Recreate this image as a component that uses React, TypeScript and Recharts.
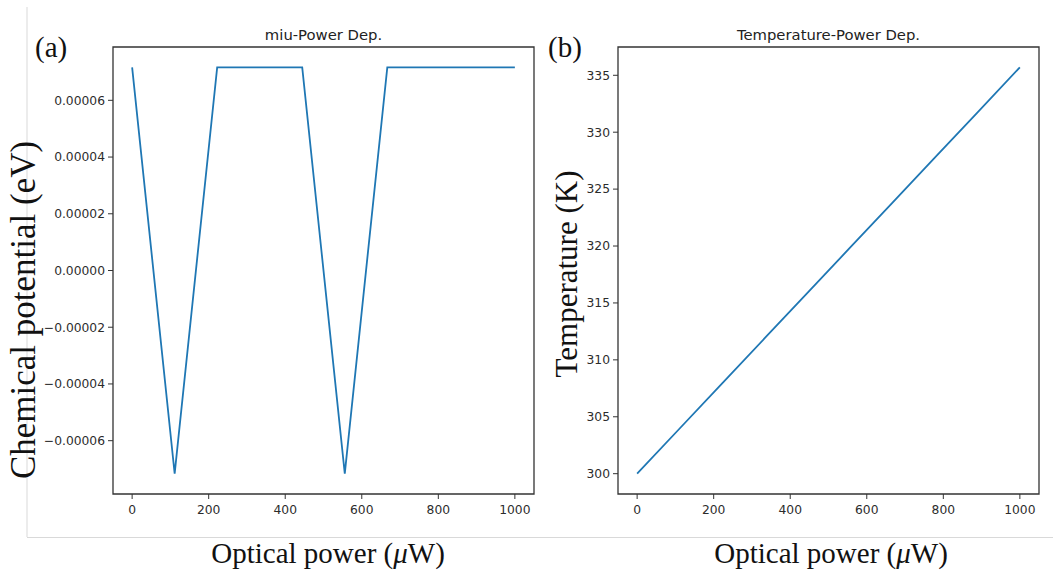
import React from 'react';
import { LineChart, Line, XAxis, YAxis, ReferenceArea } from 'recharts';

const power = [0, 111.1, 222.2, 333.3, 444.4, 555.6, 666.7, 777.8, 888.9, 1000];
const miu = [7.16e-5, -7.16e-5, 7.16e-5, 7.16e-5, 7.16e-5, -7.16e-5, 7.16e-5, 7.16e-5, 7.16e-5, 7.16e-5];
const temperature = [300.0, 303.97, 307.93, 311.9, 315.87, 319.83, 323.8, 327.77, 331.73, 335.7];

const xTicks = [0, 200, 400, 600, 800, 1000];
const miuTicks = [-0.00006, -0.00004, -0.00002, 0, 0.00002, 0.00004, 0.00006];
const tempTicks = [300, 305, 310, 315, 320, 325, 330, 335];

const miuData = power.map((p, i) => ({ p, v: miu[i] }));
const tempData = power.map((p, i) => ({ p, v: temperature[i] }));

const AXIS = '#333';
const tickStyle = { fill: '#2b2b2b', fontSize: 12.3, fontFamily: 'DejaVu Sans' };
const serif = '"Liberation Serif", "Times New Roman", serif';

const fmtMiu = (v: number) => {
  const s = Math.abs(v).toFixed(5);
  return v < -1e-12 ? '\u2212' + s : s;
};

export default function App() {
  return (
    <div style={{ position: 'absolute', left: 0, top: 0, width: 1053, height: 571, background: '#fff', overflow: 'hidden' }}>
      <div style={{ position: 'absolute', left: 0, top: 0 }}>
        <LineChart width={560} height={571} data={miuData} margin={{ top: 47, right: 26, bottom: 47, left: 33 }}>
          <XAxis
            type="number"
            dataKey="p"
            domain={[-50, 1050]}
            ticks={xTicks}
            allowDataOverflow
            interval={0}
            height={30}
            tickSize={5}
            tickMargin={6}
            tick={tickStyle}
            stroke={AXIS}
            axisLine={false}
          />
          <YAxis
            type="number"
            dataKey="v"
            domain={[-0.0000788, 0.0000788]}
            ticks={miuTicks}
            allowDataOverflow
            interval={0}
            width={80}
            tickSize={5}
            tickMargin={3}
            tick={tickStyle}
            tickFormatter={fmtMiu}
            stroke={AXIS}
            axisLine={false}
          />
          <ReferenceArea x1={-50} x2={1050} y1={-0.0000788} y2={0.0000788} fill="none" stroke={AXIS} strokeWidth={1.3} ifOverflow="visible" />
          <Line type="linear" dataKey="v" stroke="#1f77b4" strokeWidth={1.8} dot={false} isAnimationActive={false} />
        </LineChart>
      </div>
      <div style={{ position: 'absolute', left: 560, top: 0 }}>
        <LineChart width={493} height={571} data={tempData} margin={{ top: 47, right: 14, bottom: 47, left: 8 }}>
          <XAxis
            type="number"
            dataKey="p"
            domain={[-50, 1050]}
            ticks={xTicks}
            allowDataOverflow
            interval={0}
            height={30}
            tickSize={5}
            tickMargin={6}
            tick={tickStyle}
            stroke={AXIS}
            axisLine={false}
          />
          <YAxis
            type="number"
            dataKey="v"
            domain={[298.215, 337.485]}
            ticks={tempTicks}
            allowDataOverflow
            interval={0}
            width={50}
            tickSize={5}
            tickMargin={3}
            tick={tickStyle}
            stroke={AXIS}
            axisLine={false}
          />
          <ReferenceArea x1={-50} x2={1050} y1={298.215} y2={337.485} fill="none" stroke={AXIS} strokeWidth={1.3} ifOverflow="visible" />
          <Line type="linear" dataKey="v" stroke="#1f77b4" strokeWidth={1.8} dot={false} isAnimationActive={false} />
        </LineChart>
      </div>
      <svg width={1053} height={571} style={{ position: 'absolute', left: 0, top: 0, pointerEvents: 'none' }}>
        <line x1={27} y1={7} x2={27} y2={537} stroke="#d9d9d9" strokeWidth={1} />
        <line x1={27} y1={537.5} x2={1053} y2={537.5} stroke="#d9d9d9" strokeWidth={1} />
        <text x={323.5} y={40} textAnchor="middle" fontFamily="DejaVu Sans" fontSize={14.8} fill="#222">miu-Power Dep.</text>
        <text x={828.5} y={40} textAnchor="middle" fontFamily="DejaVu Sans" fontSize={14.8} fill="#222">Temperature-Power Dep.</text>
        <text x={35} y={57} fontFamily={serif} fontSize={29} fill="#111">(a)</text>
        <text x={548} y={57} fontFamily={serif} fontSize={29} fill="#111">(b)</text>
        <text x={328} y={563} textAnchor="middle" fontFamily={serif} fontSize={29} fill="#111">
          Optical power (<tspan fontStyle="italic">μ</tspan>W)
        </text>
        <text x={831} y={563} textAnchor="middle" fontFamily={serif} fontSize={29} fill="#111">
          Optical power (<tspan fontStyle="italic">μ</tspan>W)
        </text>
        <text transform="translate(35,310) rotate(-90)" textAnchor="middle" fontFamily={serif} fontSize={35} fill="#111">
          Chemical potential (eV)
        </text>
        <text transform="translate(577,274) rotate(-90)" textAnchor="middle" fontFamily={serif} fontSize={31} fill="#111">
          Temperature (K)
        </text>
      </svg>
    </div>
  );
}
